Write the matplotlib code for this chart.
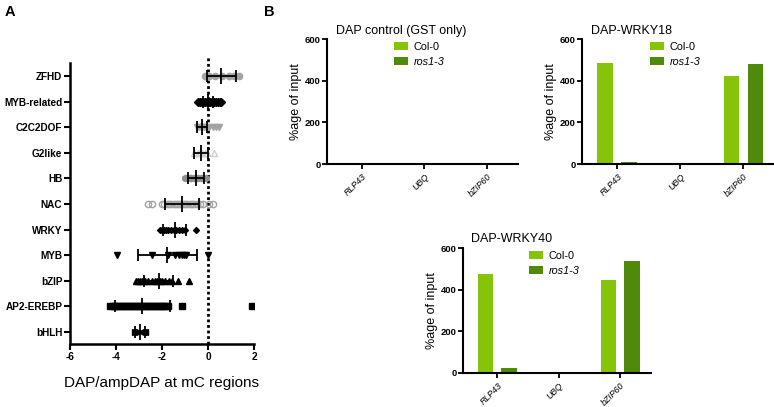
import matplotlib
matplotlib.use('Agg')
import matplotlib.pyplot as plt
from matplotlib.patches import Patch

plt.rcParams['font.family'] = ['Liberation Sans', 'DejaVu Sans']

W, H = 774, 407

# ---------------- Panel A data ----------------
families = ['ZFHD', 'MYB-related', 'C2C2DOF', 'G2like', 'HB', 'NAC',
            'WRKY', 'MYB', 'bZIP', 'AP2-EREBP', 'bHLH']
fam_means = [0.57, 0.0, -0.25, -0.3, -0.52, -1.13, -1.45, -1.77, -2.15, -2.85, -2.96]
fam_sds = [0.63, 0.2, 0.22, 0.3, 0.33, 0.74, 0.5, 1.27, 0.62, 1.2, 0.21]

zfhd_pts = [-0.15, 0.05, 0.3, 0.6, 0.9, 1.15, 1.35]
mybrel_pts = [-0.43, -0.35, -0.28, -0.2, -0.12, -0.05, 0.03, 0.1, 0.18, 0.26, 0.34, 0.42, 0.5, 0.57]
c2c2dof_pts = [-0.47, -0.4, -0.32, -0.25, -0.18, -0.1, 0.05, 0.2, 0.35, 0.48]
g2like_pts = [-0.6, -0.45, -0.35, -0.25, -0.15, -0.05, 0.28]
hb_pts = [-1.0, -0.9, -0.8, -0.72, -0.62, -0.52, -0.42, -0.32, -0.22, -0.1]
nac_pts = [-2.6, -2.45, -2.0, -1.9, -1.8, -1.7, -1.6, -1.5, -1.4, -1.3, -1.2, -1.1,
           -1.0, -0.9, -0.8, -0.7, -0.6, -0.5, -0.35, -0.2, 0.05, 0.2]
wrky_pts = [-2.1, -2.0, -1.9, -1.82, -1.72, -1.6, -1.5, -1.38, -1.25, -1.12, -1.0, -0.52]
myb_pts = [-3.97, -2.45, -1.75, -1.42, -1.28, -1.15, -1.05, -0.95, 0.0]
bzip_pts = [-3.15, -3.05, -2.95, -2.85, -2.75, -2.6, -2.45, -2.3, -2.2, -2.1, -2.0,
            -1.85, -1.7, -1.55, -1.3, -0.82]
ap2_pts = [-4.25, -4.15, -4.05, -3.95, -3.85, -3.75, -3.65, -3.55, -3.45, -3.35, -3.25,
           -3.15, -3.05, -2.95, -2.85, -2.75, -2.65, -2.55, -2.45, -2.35, -2.25, -2.15,
           -2.05, -1.95, -1.85, -1.75, -1.13, 1.9]
bhlh_pts = [-3.17, -3.1, -3.02, -2.9, -2.82, -2.74]

fam_points = [zfhd_pts, mybrel_pts, c2c2dof_pts, g2like_pts, hb_pts, nac_pts,
              wrky_pts, myb_pts, bzip_pts, ap2_pts, bhlh_pts]

# marker styles: (marker, face, edge, size)
fam_styles = [('o', '#a3a3a3', '#a3a3a3', 4.5),
              ('D', 'black', 'black', 4.5),
              ('v', '#a3a3a3', '#a3a3a3', 4.5),
              ('^', 'none', '#cfcfcf', 4.0),
              ('h', '#8f8f8f', '#8f8f8f', 4.5),
              ('o', 'none', '#a3a3a3', 4.5),
              ('D', 'black', 'black', 3.0),
              ('v', 'black', 'black', 4.0),
              ('^', 'black', 'black', 4.0),
              ('s', 'black', 'black', 4.0),
              ('>', 'black', 'black', 4.0)]

# ---------------- Panel B data ----------------
genes = ['RLP43', 'UBQ', 'bZIP60']
ctrl_col0 = [0, 0, 0]
ctrl_ros = [0, 0, 0]
w18_col0 = [486, 0, 424]
w18_ros = [10, 0, 478]
w40_col0 = [475, 0, 448]
w40_ros = [25, 0, 539]

col0_color = '#86c40a'
ros_color = '#4f8a0a'

fig = plt.figure(figsize=(W / 100, H / 100), dpi=100)


def ax_px(left, right, top, bottom):
    return fig.add_axes([left / W, 1 - bottom / H, (right - left) / W, (bottom - top) / H])


# ---------------- Panel A ----------------
axA = ax_px(70, 254, 57, 344)
n = len(families)
ypos = [n - 1 - i for i in range(n)]
for i, fam in enumerate(families):
    y = ypos[i]
    m, fc, ec, ms = fam_styles[i]
    pts = fam_points[i]
    if fam == 'bHLH':
        for p in pts:
            mk = '>' if p < fam_means[i] else '<'
            axA.plot([p], [y], linestyle='none', marker=mk, markersize=ms,
                     markerfacecolor=fc, markeredgecolor=ec, zorder=2)
    else:
        axA.plot(pts, [y] * len(pts), linestyle='none', marker=m, markersize=ms,
                 markerfacecolor=fc, markeredgecolor=ec, markeredgewidth=1.0, zorder=2)
    axA.errorbar([fam_means[i]], [y], xerr=[fam_sds[i]], fmt='|', color='black',
                 markersize=11, markeredgewidth=1.3, elinewidth=1.3, capsize=4,
                 capthick=1.3, zorder=3)

axA.axvline(0, color='black', linestyle=(0, (1, 1)), linewidth=2.0, zorder=1)
axA.set_xlim(-6, 2)
axA.set_ylim(-0.47, 10.74)
axA.set_yticks(ypos)
axA.set_yticklabels(families, fontsize=7.2, fontweight='bold')
axA.set_xticks([-6, -4, -2, 0, 2])
axA.set_xticklabels(['-6', '-4', '-2', '0', '2'], fontsize=7.2, fontweight='bold')
axA.spines['top'].set_visible(False)
axA.spines['right'].set_visible(False)
axA.spines['left'].set_bounds(-0.47, 10.5)
for s in ('left', 'bottom'):
    axA.spines[s].set_linewidth(1.8)
axA.tick_params(axis='both', width=1.5, length=4, pad=1.5)
axA.set_xlabel('DAP/ampDAP at mC regions', fontsize=11, labelpad=10)

# ---------------- Panel B ----------------
def bar_panel(ax, title, col0, ros, width_px):
    x = list(range(len(genes)))
    ax.bar([xi - 0.19 for xi in x], col0, width=0.25, color=col0_color, label='Col-0')
    ax.bar([xi + 0.19 for xi in x], ros, width=0.25, color=ros_color, label='ros1-3')
    ax.set_xlim(-0.56, 2.5)
    ax.set_ylim(0, 600)
    ax.set_yticks([0, 200, 400, 600])
    ax.set_yticklabels(['0', '200', '400', '600'], fontsize=6.8, fontweight='bold')
    ax.set_xticks(x)
    ax.set_xticklabels(genes, rotation=45, ha='right', va='top', rotation_mode='anchor',
                       fontsize=6.4, fontstyle='italic')
    ax.spines['top'].set_visible(False)
    ax.spines['right'].set_visible(False)
    for s in ('left', 'bottom'):
        ax.spines[s].set_linewidth(1.5)
    ax.tick_params(axis='both', width=1.3, length=3.5, pad=1.0)
    ax.tick_params(axis='x', pad=2)
    ax.set_ylabel('%age of input', fontsize=9)
    ax.yaxis.set_label_coords(-25.0 / width_px, 0.5)
    ax.text(0.045, 1.02, title, transform=ax.transAxes, ha='left', va='bottom', fontsize=9)
    handles = [Patch(facecolor=col0_color, label='Col-0'),
               Patch(facecolor=ros_color, label='ros1-3')]
    leg = ax.legend(handles=handles, loc='upper left', bbox_to_anchor=(0.33, 1.01),
                    frameon=False, fontsize=7.8, handlelength=1.3, handleheight=0.75,
                    handletextpad=0.5, labelspacing=0.45, borderaxespad=0)
    leg.get_texts()[1].set_fontstyle('italic')


axC = ax_px(327, 518, 39, 164)
bar_panel(axC, 'DAP control (GST only)', ctrl_col0, ctrl_ros, 191)
ax18 = ax_px(582, 775, 39, 164)
bar_panel(ax18, 'DAP-WRKY18', w18_col0, w18_ros, 193)
ax40 = ax_px(463, 651, 248, 373)
bar_panel(ax40, 'DAP-WRKY40', w40_col0, w40_ros, 188)

fig.text(5 / W, 1 - 12 / H, 'A', fontsize=10.5, fontweight='bold', va='center', ha='left')
fig.text(264 / W, 1 - 12 / H, 'B', fontsize=10.5, fontweight='bold', va='center', ha='left')

fig.savefig('out.png', dpi=100, facecolor='white')
